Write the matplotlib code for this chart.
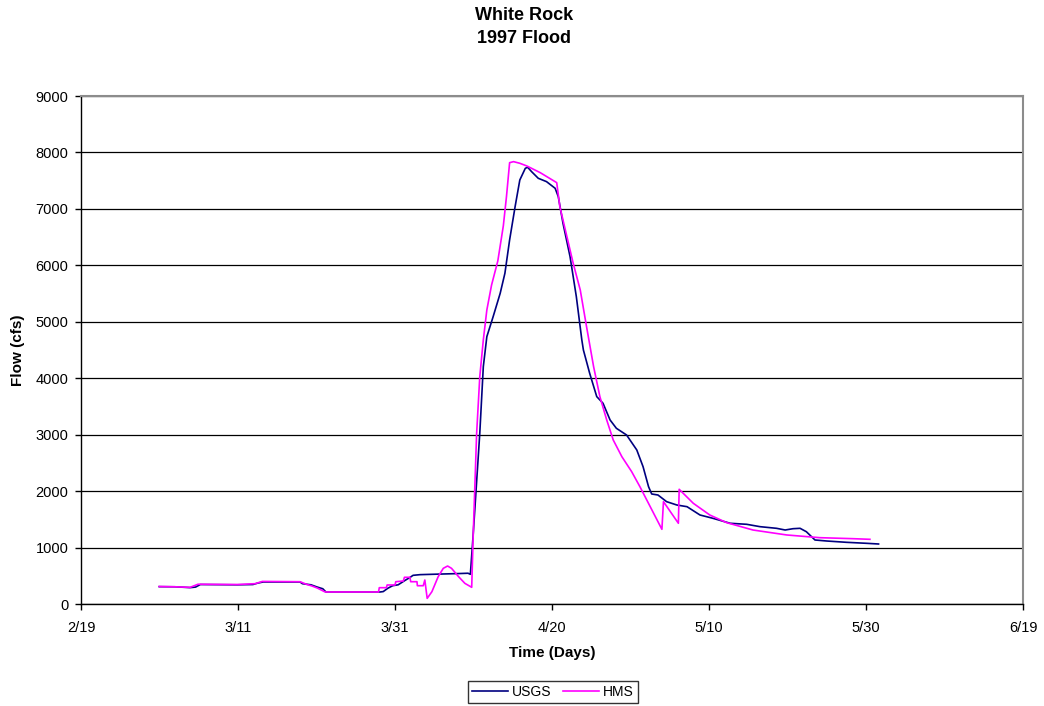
import matplotlib
matplotlib.use("Agg")
import matplotlib.pyplot as plt
import matplotlib.dates as mdates
import pandas as pd

plt.rcParams["font.family"] = ["Liberation Sans", "DejaVu Sans"]

ORIGIN = pd.Timestamp("1997-02-19")

# Observed flow (USGS gauge): days after 2/19/1997 and flow in cfs
usgs_day = [9.97, 11.97, 13.9, 14.6, 15.2, 19.9, 21.9, 22.5, 23.2, 27.9, 28.2, 29.3,
            30.1, 30.8, 31.2, 38.1, 38.5, 39.1, 39.7, 40.4, 41.3, 41.9, 42.3, 43.2,
            45.7, 48.3, 49.3, 49.6, 49.97, 50.8, 51.25, 51.7, 52.5, 53.4, 54.0, 54.6,
            55.3, 55.9, 56.6, 56.9, 57.4, 58.25, 59.3, 60.4, 60.8, 61.4, 62.3, 63.1,
            63.8, 64.0, 64.8, 65.7, 66.5, 67.4, 68.2, 69.5, 70.8, 71.6, 72.3, 72.7,
            73.5, 74.6, 75.9, 77.2, 78.85, 80.5, 82.7, 84.8, 86.5, 88.6, 89.7, 90.7,
            91.6, 92.4, 93.5, 95.0, 97.5, 100.1, 101.6]
usgs_cfs = [307, 305, 290, 300, 345, 340, 345, 370, 390, 390, 360, 340,
            300, 270, 213, 213, 220, 280, 324, 340, 420, 470, 508, 520,
            530, 540, 545, 526, 1252, 3024, 4205, 4737, 5090, 5505, 5859, 6449,
            7040, 7512, 7719, 7737, 7660, 7542, 7483, 7365, 7217, 6745, 6154, 5445,
            4678, 4500, 4087, 3674, 3556, 3260, 3113, 2994, 2729, 2433, 2078, 1949,
            1931, 1813, 1754, 1724, 1577, 1518, 1430, 1412, 1370, 1341, 1311, 1334,
            1341, 1281, 1134, 1116, 1093, 1075, 1063]

# Simulated flow (HMS model)
hms_day = [9.97, 11.97, 13.9, 14.9, 19.9, 22.2, 23.1, 27.9, 28.8, 29.4, 30.1, 31.1,
           37.9, 38.0, 38.9, 39.0, 40.0, 40.1, 41.06, 41.2, 41.9, 42.0, 42.8, 42.85,
           43.6, 43.8, 44.1, 44.7, 45.5, 46.15, 46.7, 47.2, 48.1, 48.9, 49.77, 49.97,
           50.4, 50.8, 51.25, 51.7, 52.3, 53.1, 53.8, 54.2, 54.6, 55.1, 55.9, 56.8,
           58.5, 60.6, 61.0, 61.9, 62.7, 63.6, 64.4, 65.3, 66.1, 66.97, 67.8, 68.9,
           70.15, 71.2, 74.0, 74.2, 76.1, 76.2, 78.0, 80.1, 82.25, 85.6, 89.9, 94.1,
           98.4, 100.5]
hms_cfs = [310, 305, 295, 350, 345, 360, 400, 395, 345, 320, 283, 213,
           213, 289, 289, 337, 337, 395, 407, 473, 473, 395, 395, 324,
           324, 425, 100, 218, 484, 632, 673, 632, 484, 366, 296, 1252,
           3024, 4028, 4678, 5209, 5650, 6080, 6700, 7217, 7819, 7837, 7808, 7760,
           7642, 7465, 7040, 6508, 6036, 5563, 4914, 4205, 3674, 3260, 2906, 2610,
           2344, 2078, 1323, 1813, 1430, 2032, 1784, 1577, 1441, 1311, 1223, 1175,
           1157, 1146]

x_ticks = ["1997-02-19", "1997-03-11", "1997-03-31", "1997-04-20",
           "1997-05-10", "1997-05-30", "1997-06-19"]
y_ticks = [0, 1000, 2000, 3000, 4000, 5000, 6000, 7000, 8000, 9000]

usgs_t = ORIGIN + pd.to_timedelta(usgs_day, unit="D")
hms_t = ORIGIN + pd.to_timedelta(hms_day, unit="D")

fig = plt.figure(figsize=(10.44, 7.06), dpi=100)
ax = fig.add_axes([81 / 1044, 102 / 706, 942 / 1044, 508 / 706])

ax.plot(usgs_t, usgs_cfs, color="#000080", lw=1.2, label="USGS", zorder=3)
ax.plot(hms_t, hms_cfs, color="#FF00FF", lw=1.2, label="HMS", zorder=4)

ax.set_xlim(pd.Timestamp(x_ticks[0]), pd.Timestamp(x_ticks[-1]))
ax.set_ylim(0, 9000)
ax.set_xticks([pd.Timestamp(d) for d in x_ticks])
ax.xaxis.set_major_formatter(
    matplotlib.ticker.FuncFormatter(lambda v, p: f"{mdates.num2date(v).month}/{mdates.num2date(v).day}"))
ax.set_yticks(y_ticks)
ax.yaxis.grid(True, color="black", lw=0.9)
ax.set_axisbelow(True)

for side in ("top", "right"):
    ax.spines[side].set_color("#8c8c8c")
    ax.spines[side].set_linewidth(1.5)
for side in ("left", "bottom"):
    ax.spines[side].set_color("black")
    ax.spines[side].set_linewidth(1.0)

ax.tick_params(axis="both", direction="out", length=4, width=1, labelsize=10.5, colors="black")
ax.tick_params(axis="x", pad=8.5)
ax.tick_params(axis="y", pad=5)

ax.set_xlabel("Time (Days)", fontsize=11, fontweight="bold", labelpad=8)
ax.set_ylabel("Flow (cfs)", fontsize=11, fontweight="bold", labelpad=8)

fig.text(524 / 1044, 1 - 15 / 706, "White Rock", ha="center", va="center",
         fontsize=13, fontweight="bold")
fig.text(524 / 1044, 1 - 38.5 / 706, "1997 Flood", ha="center", va="center",
         fontsize=13, fontweight="bold")

leg = ax.legend(loc="center", bbox_to_anchor=(553 / 1044, 1 - 692 / 706),
                bbox_transform=fig.transFigure, ncol=2, frameon=True, fancybox=False,
                edgecolor="black", fontsize=10, handlelength=2.6, handletextpad=0.3,
                columnspacing=0.8, borderpad=0.3, borderaxespad=0)
leg.get_frame().set_linewidth(1.0)

fig.savefig("out.png", dpi=100)
